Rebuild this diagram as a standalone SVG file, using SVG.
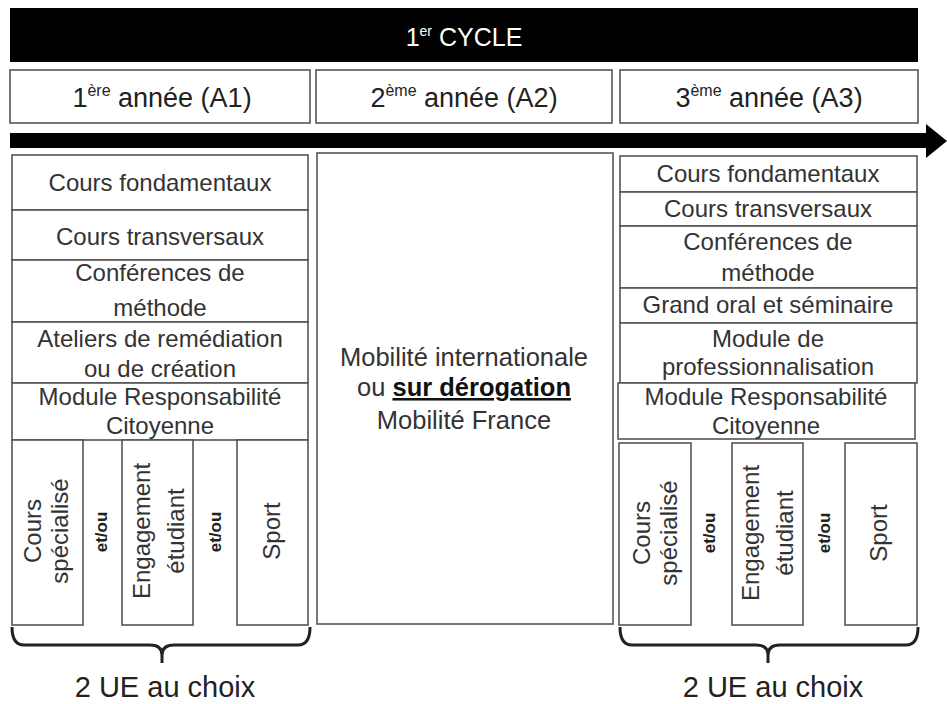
<svg xmlns="http://www.w3.org/2000/svg" width="947" height="704" viewBox="0 0 947 704">
<style>
.bx{fill:#fff;stroke:#555;stroke-width:1.6}
.t{font-family:"Liberation Sans",Arial,sans-serif;font-size:24px;fill:#333;text-anchor:middle}
.h{font-family:"Liberation Sans",Arial,sans-serif;font-size:27px;fill:#222;text-anchor:middle}
.b{font-family:"Liberation Sans",Arial,sans-serif;font-size:17px;font-weight:bold;fill:#222;text-anchor:middle}
.br{fill:none;stroke:#222;stroke-width:3}
</style>
<rect width="947" height="704" fill="#fff"/>
<g id="cycle">
<rect x="10" y="8" width="908" height="54" fill="#000"/>
<text class="h" x="464" y="46" style="fill:#fff;font-size:25px">1<tspan font-size="14" dy="-10">er</tspan><tspan dy="10"> CYCLE</tspan></text>
</g>
<g id="a1">
<rect class="bx" x="10" y="70" width="300" height="53"/>
<text class="h" x="162" y="107">1<tspan font-size="16" dy="-11">ère</tspan><tspan dy="11"> année (A1)</tspan></text>
</g>
<g id="a2">
<rect class="bx" x="316" y="70" width="296" height="53"/>
<text class="h" x="464" y="107">2<tspan font-size="16" dy="-11">ème</tspan><tspan dy="11"> année (A2)</tspan></text>
</g>
<g id="a3">
<rect class="bx" x="620" y="70" width="298" height="53"/>
<text class="h" x="769" y="107">3<tspan font-size="16" dy="-11">ème</tspan><tspan dy="11"> année (A3)</tspan></text>
</g>
<g id="connectors">
<path d="M10,133 L926,133 L926,124 L947,141 L926,158 L926,148 L10,148 Z" fill="#000"/>
<path class="br" d="M12,627 Q12,645 24,645 L150,645 Q162,645 162,655 L162,663 M162,655 Q162,645 174,645 L298,645 Q310,645 310,627"/>
<path class="br" d="M620,627 Q620,645 632,645 L756,645 Q768,645 768,655 L768,663 M768,655 Q768,645 780,645 L906,645 Q918,645 918,627"/>
</g>
<g id="left">
<rect class="bx" x="12" y="155" width="296" height="55"/>
<text class="t" x="160" y="191">Cours fondamentaux</text>
<rect class="bx" x="12" y="210" width="296" height="50"/>
<text class="t" x="160" y="245">Cours transversaux</text>
<rect class="bx" x="12" y="260" width="296" height="62"/>
<text class="t" x="160" y="281">Conférences de</text>
<text class="t" x="160" y="316">méthode</text>
<rect class="bx" x="12" y="322" width="296" height="61"/>
<text class="t" x="160" y="347">Ateliers de remédiation</text>
<text class="t" x="160" y="377">ou de création</text>
<rect class="bx" x="12" y="383" width="296" height="57"/>
<text class="t" x="160" y="405">Module Responsabilité</text>
<text class="t" x="160" y="434">Citoyenne</text>
</g>
<g id="left-choices">
<rect class="bx" x="12" y="440" width="71" height="185"/>
<text class="t" transform="translate(41,531) rotate(-90)">Cours</text>
<text class="t" transform="translate(68,531) rotate(-90)">spécialisé</text>
<text class="b" transform="translate(107,532) rotate(-90)">et/ou</text>
<rect class="bx" x="122" y="440" width="71" height="185"/>
<text class="t" transform="translate(150,531) rotate(-90)">Engagement</text>
<text class="t" transform="translate(184,531) rotate(-90)">étudiant</text>
<text class="b" transform="translate(221,532) rotate(-90)">et/ou</text>
<rect class="bx" x="237" y="440" width="71" height="185"/>
<text class="t" transform="translate(280,531) rotate(-90)">Sport</text>
<text class="h" x="165" y="697" style="font-size:29px">2 UE au choix</text>
</g>
<g id="middle">
<rect class="bx" x="317" y="153" width="296" height="471"/>
<text class="t" x="464" y="366" style="font-size:25.5px">Mobilité internationale</text>
<text class="t" x="464" y="396" style="font-size:25.5px">ou <tspan font-weight="bold" text-decoration="underline" fill="#111">sur dérogation</tspan></text>
<text class="t" x="464" y="429" style="font-size:25.5px">Mobilité France</text>
</g>
<g id="right">
<rect class="bx" x="620" y="156" width="297" height="36"/>
<text class="t" x="768" y="182">Cours fondamentaux</text>
<rect class="bx" x="620" y="192" width="297" height="34"/>
<text class="t" x="768" y="217">Cours transversaux</text>
<rect class="bx" x="620" y="226" width="297" height="62"/>
<text class="t" x="768" y="250">Conférences de</text>
<text class="t" x="768" y="281">méthode</text>
<rect class="bx" x="620" y="288" width="297" height="35"/>
<text class="t" x="768" y="313">Grand oral et séminaire</text>
<rect class="bx" x="620" y="323" width="297" height="60"/>
<text class="t" x="768" y="347">Module de</text>
<text class="t" x="768" y="375">professionnalisation</text>
<rect class="bx" x="618" y="383" width="297" height="56"/>
<text class="t" x="766" y="405">Module Responsabilité</text>
<text class="t" x="766" y="434">Citoyenne</text>
</g>
<g id="right-choices">
<rect class="bx" x="619" y="443" width="72" height="182"/>
<text class="t" transform="translate(650,533) rotate(-90)">Cours</text>
<text class="t" transform="translate(677,533) rotate(-90)">spécialisé</text>
<text class="b" transform="translate(715,533) rotate(-90)">et/ou</text>
<rect class="bx" x="732" y="443" width="71" height="182"/>
<text class="t" transform="translate(759,533) rotate(-90)">Engagement</text>
<text class="t" transform="translate(793,533) rotate(-90)">étudiant</text>
<text class="b" transform="translate(830,533) rotate(-90)">et/ou</text>
<rect class="bx" x="845" y="443" width="72" height="182"/>
<text class="t" transform="translate(887,533) rotate(-90)">Sport</text>
<text class="h" x="773" y="697" style="font-size:29px">2 UE au choix</text>
</g>
</svg>
